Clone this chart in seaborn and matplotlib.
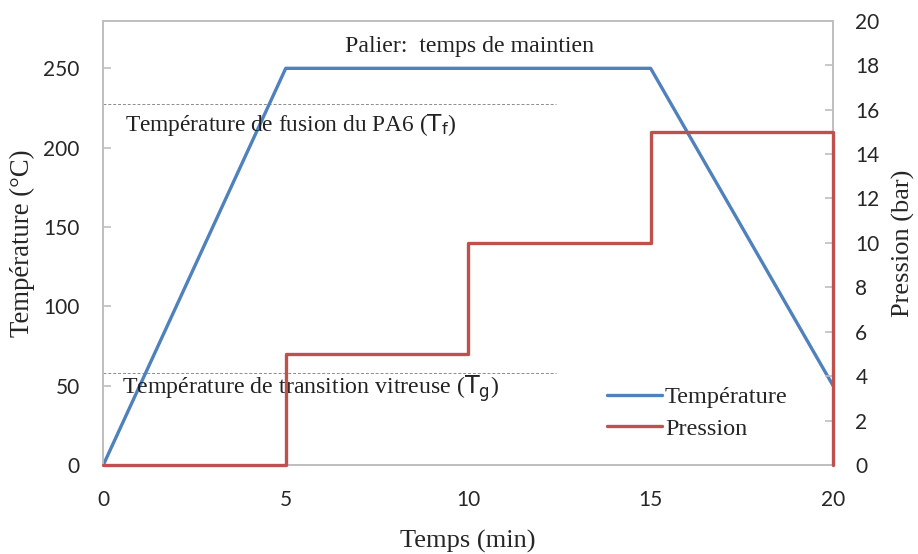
import matplotlib
matplotlib.use("Agg")
import matplotlib.pyplot as plt
import seaborn as sns
import pandas as pd

# Données du cycle thermique
temps_temp = [0, 5, 15, 20]
temperature = [0, 250, 250, 50]

# Pression (paliers)
temps_pres = [0, 5, 5, 10, 10, 15, 15, 20, 20]
pression = [0, 0, 5, 5, 10, 10, 15, 15, 0]

# Températures caractéristiques du PA6
t_fusion = 227.5
t_transition = 58
fin_repere = 12.4

sns.set_theme(style="white")
plt.rcParams['font.family'] = ['Liberation Serif', 'DejaVu Sans']
plt.rcParams['mathtext.fontset'] = 'dejavusans'

bleu = '#4F81BD'
rouge = '#C0504D'
gris = '#BFBFBF'

fig = plt.figure(figsize=(9.18, 5.54), dpi=100)
ax = fig.add_axes([0.1125, 0.1606, 0.795, 0.802])
ax2 = ax.twinx()

df_t = pd.DataFrame({'temps': temps_temp, 'temperature': temperature})
df_p = pd.DataFrame({'temps': temps_pres, 'pression': pression})

sns.lineplot(data=df_t, x='temps', y='temperature', ax=ax, color=bleu,
             linewidth=2.4, label='Température', legend=False, zorder=3)
sns.lineplot(data=df_p, x='temps', y='pression', ax=ax2, color=rouge,
             linewidth=2.4, label='Pression', legend=False, sort=False,
             estimator=None, clip_on=False, zorder=3)

# Lignes de repère
ax.plot([0, fin_repere], [t_fusion, t_fusion], ls=(0, (3, 2)), color='#8C8C8C', lw=0.7)
ax.plot([0, fin_repere], [t_transition, t_transition], ls=(0, (3, 2)), color='#8C8C8C', lw=0.7)

ax.text(0.6, 214, 'Température de fusion du PA6 ($\\mathsf{T_f}$)', fontsize=16.8,
        va='center', ha='left', color='#222222')
ax.text(0.5, 48, 'Température de transition vitreuse ($\\mathsf{T_g}$)', fontsize=17.2,
        va='center', ha='left', color='#222222')
ax.text(10.05, 264, 'Palier:  temps de maintien', fontsize=17.2,
        va='center', ha='center', color='#222222')

ax.set_xlim(0, 20)
ax.set_ylim(0, 280)
ax2.set_ylim(0, 20)
ax.set_xticks([0, 5, 10, 15, 20])
ax.set_yticks([0, 50, 100, 150, 200, 250])
ax2.set_yticks(range(0, 21, 2))

for a in (ax, ax2):
    for lab in a.get_xticklabels() + a.get_yticklabels():
        lab.set_fontfamily('Lato')
        lab.set_fontsize(15)
    for s in a.spines.values():
        s.set_color(gris)
        s.set_linewidth(1.3)
ax.tick_params(axis='y', direction='in', length=6, color=gris, width=1.2, pad=17)
ax.tick_params(axis='x', length=0, pad=18)
ax2.tick_params(axis='y', direction='in', length=6, color=gris, width=1.2, pad=16)

ax.set_xlabel('Temps (min)', fontsize=19, labelpad=14)
ax.set_ylabel('Température (°C)', fontsize=19.3, labelpad=6)
ax2.set_ylabel('Pression (bar)', fontsize=19, labelpad=9)

h1, l1 = ax.get_legend_handles_labels()
h2, l2 = ax2.get_legend_handles_labels()
leg = ax2.legend(h1 + h2, l1 + l2, loc='upper left', bbox_to_anchor=(0.673, 0.205),
                 frameon=False, fontsize=17.5, handlelength=2.3, handletextpad=0.1,
                 labelspacing=0.4, borderpad=0)

fig.savefig('out.png', dpi=100)
